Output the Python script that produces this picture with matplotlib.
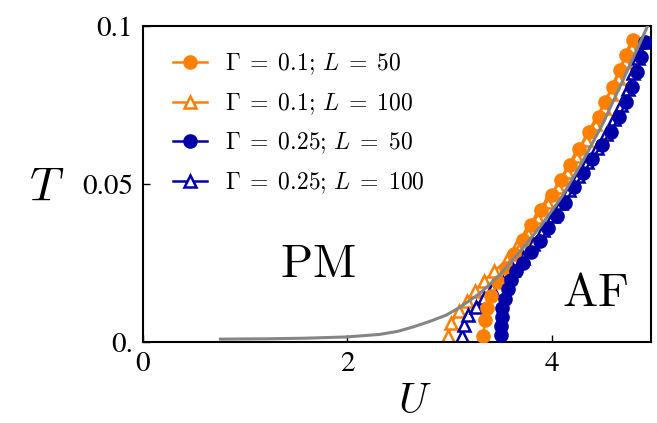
import matplotlib
matplotlib.use("Agg")
import matplotlib.pyplot as plt

plt.rcParams['mathtext.fontset'] = 'cm'
plt.rcParams['font.family'] = ['STIXGeneral', 'DejaVu Serif']

# Gamma = 0.1, L = 50 (orange circles)
U_o50 = [3.33, 3.35, 3.37, 3.41, 3.48, 3.55, 3.63, 3.72, 3.80, 3.90, 4.00, 4.09, 4.18,
         4.27, 4.37, 4.46, 4.52, 4.60, 4.67, 4.73, 4.80]
T_o50 = [0.0020, 0.0070, 0.0110, 0.0145, 0.0190, 0.0235, 0.0280, 0.0325, 0.0370, 0.0418,
         0.0466, 0.0513, 0.0560, 0.0610, 0.0666, 0.0713, 0.0761, 0.0808, 0.0861, 0.0908, 0.0956]

# Gamma = 0.1, L = 100 (orange triangles)
U_o100 = [2.99, 3.02, 3.09, 3.17, 3.25, 3.34, 3.44, 3.56, 3.66, 3.76, 3.86, 3.96, 4.06,
          4.15, 4.24, 4.34, 4.43, 4.51, 4.58, 4.65, 4.72, 4.78]
T_o100 = [0.0020, 0.0060, 0.0100, 0.0132, 0.0163, 0.0195, 0.0225, 0.0260, 0.0305, 0.0350,
          0.0395, 0.0445, 0.0490, 0.0540, 0.0590, 0.0640, 0.0690, 0.0740, 0.0785, 0.0835,
          0.0885, 0.0935]

# Gamma = 0.25, L = 50 (blue circles)
U_b50 = [3.51, 3.51, 3.52, 3.52, 3.54, 3.57, 3.60, 3.65, 3.72, 3.80, 3.89, 3.97, 4.05,
         4.13, 4.22, 4.31, 4.40, 4.49, 4.58, 4.66, 4.73, 4.79, 4.84, 4.88, 4.91]
T_b50 = [0.0023, 0.0052, 0.0080, 0.0107, 0.0138, 0.0170, 0.0198, 0.0225, 0.0250, 0.0285,
         0.0320, 0.0360, 0.0400, 0.0440, 0.0490, 0.0535, 0.0580, 0.0625, 0.0666, 0.0713,
         0.0761, 0.0808, 0.0856, 0.0903, 0.0950]

# Gamma = 0.25, L = 100 (blue triangles)
U_b100 = [3.12, 3.14, 3.18, 3.26, 3.34, 3.42, 3.52, 3.62, 3.72, 3.82, 3.92, 4.01, 4.09,
          4.17, 4.26, 4.35, 4.44, 4.53, 4.61, 4.68, 4.75, 4.80, 4.85, 4.89]
T_b100 = [0.0020, 0.0055, 0.0085, 0.0112, 0.0140, 0.0167, 0.0195, 0.0230, 0.0268, 0.0310,
          0.0355, 0.0400, 0.0440, 0.0480, 0.0525, 0.0570, 0.0615, 0.0660, 0.0705, 0.0750,
          0.0800, 0.0850, 0.0900, 0.0950]

# gray fit curve
U_fit = [0.76, 1.2, 1.6, 2.0, 2.32, 2.5, 2.65, 2.8, 2.97, 3.1, 3.3, 3.5, 3.7, 3.9, 4.1,
         4.3, 4.5, 4.7, 4.94]
T_fit = [0.0010, 0.0011, 0.0013, 0.0017, 0.0025, 0.0035, 0.0049, 0.0065, 0.0086, 0.0110,
         0.0155, 0.0215, 0.0290, 0.0370, 0.0460, 0.0570, 0.0690, 0.0830, 0.1000]

labels = [r'$\Gamma\;=\;0.1;\,L\;=\;50$', r'$\Gamma\;=\;0.1;\,L\;=\;100$',
          r'$\Gamma\;=\;0.25;\,L\;=\;50$', r'$\Gamma\;=\;0.25;\,L\;=\;100$']
xticks = [0, 2, 4]
yticks = [0, 0.05, 0.1]
yticklabels = ['0.', '0.05', '0.1']

orange = '#FF8000'
blue = '#0000A8'

fig = plt.figure(figsize=(6.57, 4.23), dpi=100)
ax = fig.add_axes([0.2172, 0.1908, 0.7732, 0.7477])

h1, = ax.plot(U_o50, T_o50, '-o', color=orange, lw=1.8, ms=9.5, mec=orange, mfc=orange,
              zorder=3, label=labels[0])
h2, = ax.plot(U_o100, T_o100, '-^', color=orange, lw=1.8, ms=8.5, mec=orange, mfc='white',
              mew=1.8, zorder=2, label=labels[1])
h3, = ax.plot(U_b50, T_b50, '-o', color=blue, lw=1.8, ms=9.5, mec=blue, mfc=blue,
              zorder=4, label=labels[2])
h4, = ax.plot(U_b100, T_b100, '-^', color=blue, lw=1.8, ms=8.5, mec=blue, mfc='white',
              mew=1.8, zorder=2.5, label=labels[3])
ax.plot(U_fit, T_fit, '-', color='#858585', lw=2.2, zorder=5)

ax.set_xlim(0, 4.97)
ax.set_ylim(0, 0.1)
ax.set_xticks(xticks)
ax.set_xticklabels([str(v) for v in xticks])
ax.set_yticks(yticks)
ax.set_yticklabels(yticklabels)
ax.tick_params(direction='in', length=5, width=1.0, labelsize=21, pad=7)
for s in ax.spines.values():
    s.set_linewidth(1.5)

ax.set_xlabel(r'$U$', fontsize=30)
ax.xaxis.set_label_coords(0.536, -0.135)
ax.set_ylabel(r'$T$', fontsize=34, rotation=0)
ax.yaxis.set_label_coords(-0.19, 0.42)

ax.text(1.71, 0.0244, r'$\mathrm{PM}$', fontsize=34, ha='center', va='center')
ax.text(4.43, 0.0150, r'$\mathrm{AF}$', fontsize=34, ha='center', va='center')

leg = ax.legend(handles=[h1, h2, h3, h4], loc='upper left', frameon=False, fontsize=17,
                handlelength=1.45, handletextpad=0.76, labelspacing=0.6,
                borderpad=0, borderaxespad=0, bbox_to_anchor=(0.06, 0.92))

fig.savefig('out.png', dpi=100)
